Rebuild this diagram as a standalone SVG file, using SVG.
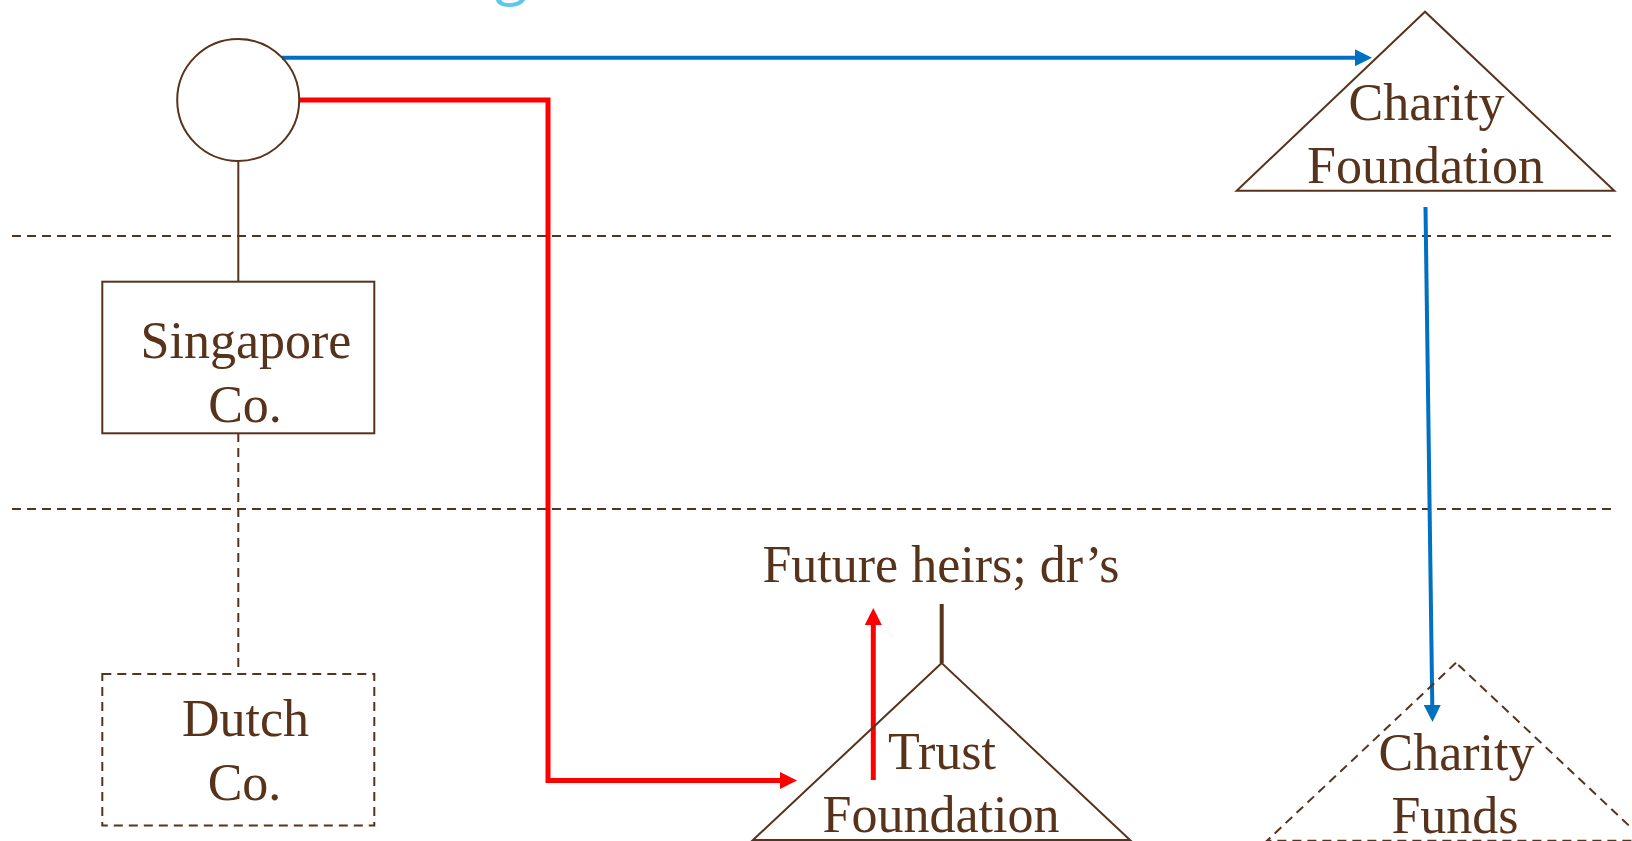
<svg xmlns="http://www.w3.org/2000/svg" width="1632" height="841" viewBox="0 0 1632 841">
<style>
.t{font-family:"Liberation Serif","Times New Roman",serif;font-size:52px;fill:#58331c;text-anchor:middle}
.s{fill:none;stroke:#58331c;stroke-width:2}
.d{fill:none;stroke:#58331c;stroke-width:2;stroke-dasharray:9 6}
.blue{fill:none;stroke:#0070c0;stroke-width:4}
.red{fill:none;stroke:#ff0000;stroke-width:5;stroke-linejoin:miter}
</style>
<defs>
<marker id="ab" viewBox="0 0 17 17" refX="9" refY="8.5" markerWidth="17" markerHeight="17" markerUnits="userSpaceOnUse" orient="auto"><path d="M0,0 L17,8.5 L0,17 Z" fill="#0070c0"/></marker>
<marker id="ar" viewBox="0 0 17 17" refX="9" refY="8.5" markerWidth="17" markerHeight="17" markerUnits="userSpaceOnUse" orient="auto"><path d="M0,0 L17,8.5 L0,17 Z" fill="#ff0000"/></marker>
</defs>
<rect width="1632" height="841" fill="#ffffff"/>
<text x="511" y="-7" font-family="'Open Sans',sans-serif" font-size="60" fill="#5bc8ec" text-anchor="middle">g</text>
<g id="bands">
<line class="d" x1="12" y1="236" x2="1614" y2="236"/>
<line class="d" x1="12" y1="509" x2="1614" y2="509"/>
</g>
<g id="connectors">
<line class="s" x1="238.3" y1="161" x2="238.3" y2="281.7"/>
<line class="d" x1="238.3" y1="433" x2="238.3" y2="674"/>
<line x1="941.7" y1="604" x2="941.7" y2="663" stroke="#58331c" stroke-width="4"/>
<line class="blue" x1="282" y1="57.7" x2="1364" y2="57.7" marker-end="url(#ab)"/>
<line class="blue" x1="1425.5" y1="207" x2="1432.4" y2="714" marker-end="url(#ab)"/>
<path class="red" d="M299,100 H548 V780.5 H789" marker-end="url(#ar)"/>
<line class="red" x1="873.3" y1="780" x2="873.3" y2="616" marker-end="url(#ar)"/>
</g>
<g id="person">
<circle class="s" cx="238.2" cy="100" r="61"/>
</g>
<g id="singapore-co">
<rect class="s" x="102.3" y="281.7" width="272" height="151.6"/>
<text class="t" x="246" y="358.3">Singapore</text>
<text class="t" x="245" y="421.7">Co.</text>
</g>
<g id="dutch-co">
<rect class="d" x="102.3" y="674" width="272" height="151.5"/>
<text class="t" x="245.5" y="736">Dutch</text>
<text class="t" x="244.5" y="800">Co.</text>
</g>
<g id="charity-foundation">
<polygon class="s" points="1425,11.7 1236.7,190.7 1614.3,190.7"/>
<text class="t" x="1426.5" y="120">Charity</text>
<text class="t" x="1425.5" y="183">Foundation</text>
</g>
<g id="trust-foundation">
<polygon class="s" points="941.7,663 753,840 1130,840"/>
<text class="t" x="942" y="769">Trust</text>
<text class="t" x="941" y="831.7">Foundation</text>
</g>
<g id="future-heirs">
<text class="t" x="941" y="582">Future heirs; dr’s</text>
</g>
<g id="charity-funds">
<polygon class="d" points="1456,662.7 1267,840.7 1645,840.7"/>
<text class="t" x="1456.5" y="770">Charity</text>
<text class="t" x="1455" y="832.7">Funds</text>
</g>
</svg>
